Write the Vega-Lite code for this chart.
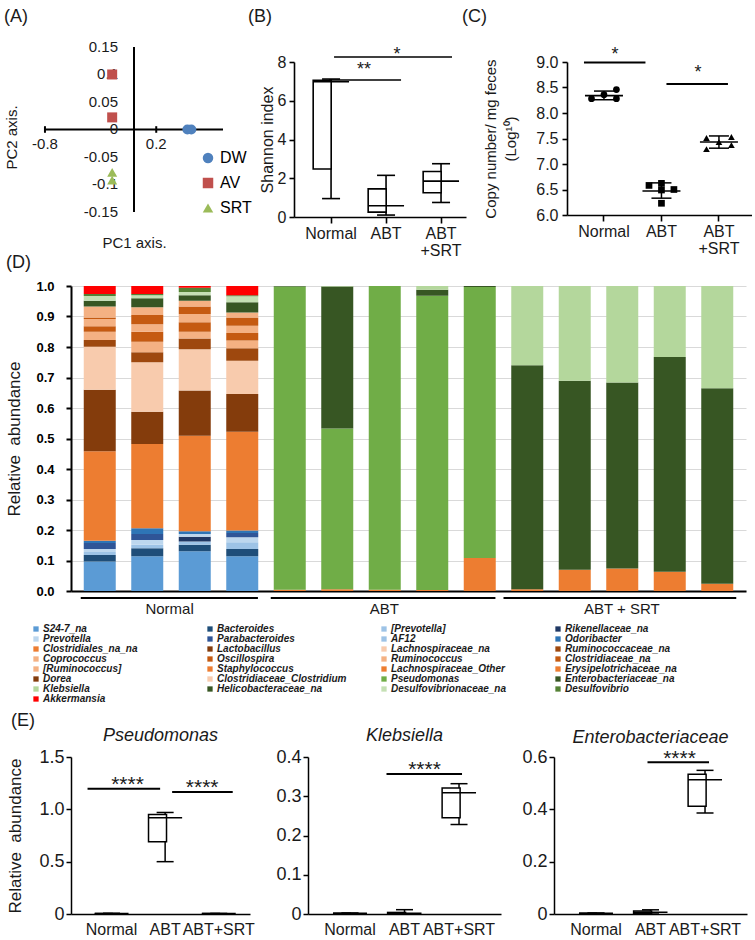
{
  "$schema": "https://vega.github.io/schema/vega-lite/v6.json",
  "background": "white",
  "padding": {"left": 4, "top": 7, "right": 0, "bottom": 0},
  "config": {
    "font": "Liberation Sans",
    "view": {"stroke": null},
    "title": {"fontSize": 18, "fontWeight": "normal", "color": "#1a1a1a", "anchor": "start"},
    "axis": {"domainColor": "black", "tickColor": "black", "labelColor": "#1a1a1a", "titleColor": "#1a1a1a", "grid": false, "titleFontWeight": "normal", "labelFont": "Liberation Sans", "titleFont": "Liberation Sans", "labelOverlap": false}
  },
  "datasets": {
    "taxa": [{"t":"S24-7_na","k":0},{"t":"Bacteroides","k":1},{"t":"[Prevotella]","k":2},{"t":"Rikenellaceae_na","k":3},{"t":"Prevotella","k":4},{"t":"Parabacteroides","k":5},{"t":"AF12","k":6},{"t":"Odoribacter","k":7},{"t":"Clostridiales_na_na","k":8},{"t":"Lactobacillus","k":9},{"t":"Lachnospiraceae_na","k":10},{"t":"Ruminococcaceae_na","k":11},{"t":"Coprococcus","k":12},{"t":"Oscillospira","k":13},{"t":"Ruminococcus","k":14},{"t":"Clostridiaceae_na","k":15},{"t":"[Ruminococcus]","k":16},{"t":"Staphylococcus","k":17},{"t":"Lachnospiraceae_Other","k":18},{"t":"Erysipelotrichaceae_na","k":19},{"t":"Dorea","k":20},{"t":"Clostridiaceae_Clostridium","k":21},{"t":"Pseudomonas","k":22},{"t":"Enterobacteriaceae_na","k":23},{"t":"Klebsiella","k":24},{"t":"Helicobacteraceae_na","k":25},{"t":"Desulfovibrionaceae_na","k":26},{"t":"Desulfovibrio","k":27},{"t":"Akkermansia","k":28}],
    "abund": [
      {"s":1,"t":"S24-7_na","v":0.097},{"s":1,"t":"Bacteroides","v":0.021},{"s":1,"t":"[Prevotella]","v":0.010},{"s":1,"t":"Prevotella","v":0.010},{"s":1,"t":"Parabacteroides","v":0.019},{"s":1,"t":"Odoribacter","v":0.008},{"s":1,"t":"Clostridiales_na_na","v":0.293},{"s":1,"t":"Lactobacillus","v":0.202},{"s":1,"t":"Lachnospiraceae_na","v":0.141},{"s":1,"t":"Ruminococcaceae_na","v":0.022},{"s":1,"t":"Coprococcus","v":0.027},{"s":1,"t":"Oscillospira","v":0.018},{"s":1,"t":"Ruminococcus","v":0.024},{"s":1,"t":"Clostridiaceae_na","v":0.005},{"s":1,"t":"[Ruminococcus]","v":0.036},{"s":1,"t":"Helicobacteraceae_na","v":0.019},{"s":1,"t":"Desulfovibrionaceae_na","v":0.015},{"s":1,"t":"Desulfovibrio","v":0.007},{"s":1,"t":"Akkermansia","v":0.026},
      {"s":2,"t":"S24-7_na","v":0.114},{"s":2,"t":"Bacteroides","v":0.026},{"s":2,"t":"[Prevotella]","v":0.012},{"s":2,"t":"Prevotella","v":0.015},{"s":2,"t":"Parabacteroides","v":0.020},{"s":2,"t":"Odoribacter","v":0.019},{"s":2,"t":"Clostridiales_na_na","v":0.276},{"s":2,"t":"Lactobacillus","v":0.106},{"s":2,"t":"Lachnospiraceae_na","v":0.162},{"s":2,"t":"Ruminococcaceae_na","v":0.033},{"s":2,"t":"Coprococcus","v":0.034},{"s":2,"t":"Oscillospira","v":0.033},{"s":2,"t":"Ruminococcus","v":0.025},{"s":2,"t":"Clostridiaceae_na","v":0.030},{"s":2,"t":"[Ruminococcus]","v":0.025},{"s":2,"t":"Helicobacteraceae_na","v":0.030},{"s":2,"t":"Desulfovibrionaceae_na","v":0.010},{"s":2,"t":"Desulfovibrio","v":0.004},{"s":2,"t":"Akkermansia","v":0.026},
      {"s":3,"t":"S24-7_na","v":0.130},{"s":3,"t":"Bacteroides","v":0.022},{"s":3,"t":"[Prevotella]","v":0.010},{"s":3,"t":"Rikenellaceae_na","v":0.016},{"s":3,"t":"Prevotella","v":0.009},{"s":3,"t":"Odoribacter","v":0.009},{"s":3,"t":"Clostridiales_na_na","v":0.313},{"s":3,"t":"Lactobacillus","v":0.148},{"s":3,"t":"Lachnospiraceae_na","v":0.136},{"s":3,"t":"Ruminococcaceae_na","v":0.035},{"s":3,"t":"Coprococcus","v":0.022},{"s":3,"t":"Oscillospira","v":0.031},{"s":3,"t":"Ruminococcus","v":0.027},{"s":3,"t":"Clostridiaceae_na","v":0.025},{"s":3,"t":"[Ruminococcus]","v":0.019},{"s":3,"t":"Helicobacteraceae_na","v":0.018},{"s":3,"t":"Desulfovibrionaceae_na","v":0.010},{"s":3,"t":"Desulfovibrio","v":0.014},{"s":3,"t":"Akkermansia","v":0.006},
      {"s":4,"t":"S24-7_na","v":0.114},{"s":4,"t":"Bacteroides","v":0.024},{"s":4,"t":"[Prevotella]","v":0.022},{"s":4,"t":"Prevotella","v":0.016},{"s":4,"t":"Parabacteroides","v":0.014},{"s":4,"t":"Odoribacter","v":0.008},{"s":4,"t":"Clostridiales_na_na","v":0.324},{"s":4,"t":"Lactobacillus","v":0.124},{"s":4,"t":"Lachnospiraceae_na","v":0.109},{"s":4,"t":"Ruminococcaceae_na","v":0.041},{"s":4,"t":"Coprococcus","v":0.025},{"s":4,"t":"Oscillospira","v":0.025},{"s":4,"t":"Ruminococcus","v":0.024},{"s":4,"t":"Clostridiaceae_na","v":0.027},{"s":4,"t":"[Ruminococcus]","v":0.016},{"s":4,"t":"Helicobacteraceae_na","v":0.034},{"s":4,"t":"Desulfovibrionaceae_na","v":0.019},{"s":4,"t":"Desulfovibrio","v":0.004},{"s":4,"t":"Akkermansia","v":0.030},
      {"s":5,"t":"Clostridiales_na_na","v":0.004},{"s":5,"t":"Pseudomonas","v":0.994},{"s":5,"t":"Enterobacteriaceae_na","v":0.002},
      {"s":6,"t":"Clostridiales_na_na","v":0.006},{"s":6,"t":"Pseudomonas","v":0.527},{"s":6,"t":"Enterobacteriaceae_na","v":0.465},{"s":6,"t":"Klebsiella","v":0.002},
      {"s":7,"t":"Clostridiales_na_na","v":0.004},{"s":7,"t":"Pseudomonas","v":0.996},
      {"s":8,"t":"Clostridiales_na_na","v":0.003},{"s":8,"t":"Pseudomonas","v":0.965},{"s":8,"t":"Enterobacteriaceae_na","v":0.020},{"s":8,"t":"Klebsiella","v":0.012},
      {"s":9,"t":"Staphylococcus","v":0.108},{"s":9,"t":"Pseudomonas","v":0.889},{"s":9,"t":"Enterobacteriaceae_na","v":0.003},
      {"s":10,"t":"Staphylococcus","v":0.006},{"s":10,"t":"Enterobacteriaceae_na","v":0.734},{"s":10,"t":"Klebsiella","v":0.260},
      {"s":11,"t":"Staphylococcus","v":0.070},{"s":11,"t":"Enterobacteriaceae_na","v":0.619},{"s":11,"t":"Klebsiella","v":0.311},
      {"s":12,"t":"Staphylococcus","v":0.074},{"s":12,"t":"Enterobacteriaceae_na","v":0.610},{"s":12,"t":"Klebsiella","v":0.316},
      {"s":13,"t":"Staphylococcus","v":0.063},{"s":13,"t":"Enterobacteriaceae_na","v":0.704},{"s":13,"t":"Klebsiella","v":0.233},
      {"s":14,"t":"Staphylococcus","v":0.024},{"s":14,"t":"Enterobacteriaceae_na","v":0.641},{"s":14,"t":"Klebsiella","v":0.335}
    ]
  },
  "spacing": 8,
  "resolve": {"scale": {"x": "independent", "y": "independent", "color": "independent", "shape": "independent"}, "legend": {"color": "independent", "shape": "independent"}},
  "vconcat": [
    {
      "spacing": -4,
      "resolve": {"scale": {"x": "independent", "y": "independent", "color": "independent", "shape": "independent"}, "legend": {"color": "independent", "shape": "independent"}},
      "vconcat": [
        {
          "spacing": -4,
          "resolve": {"scale": {"x": "independent", "y": "independent", "color": "independent", "shape": "independent"}, "legend": {"color": "independent", "shape": "independent"}},
          "hconcat": [
            {
              "width": 152, "height": 150,
              "title": {"text": "(A)", "dx": -67, "frame": "group", "offset": 14},
              "layer": [
                {
                  "data": {"values": [{"a": -0.8, "b": 0.8, "c": 0}]},
                  "mark": {"type": "rule", "color": "black", "strokeWidth": 2},
                  "encoding": {
                    "x": {"field": "a", "type": "quantitative", "scale": {"domain": [-0.566, 0.8], "nice": false, "zero": false},
                          "axis": {"title": "PC1 axis.", "labels": false, "ticks": false, "domain": false, "titleFontSize": 15, "titlePadding": 23, "titleX": 63}},
                    "x2": {"field": "b"},
                    "y": {"field": "c", "type": "quantitative", "scale": {"domain": [-0.15, 0.1227], "nice": false, "zero": false},
                          "axis": {"title": "PC2 axis.", "labels": false, "ticks": false, "domain": false, "titleFontSize": 15, "titlePadding": 52}}
                  }
                },
                {
                  "data": {"values": [{"x": 0, "a": -0.15, "b": 0.15}]},
                  "mark": {"type": "rule", "color": "black", "strokeWidth": 2},
                  "encoding": {"x": {"field": "x", "type": "quantitative"}, "y": {"field": "a", "type": "quantitative"}, "y2": {"field": "b"}}
                },
                {
                  "data": {"values": [{"x": -0.8, "l": "-0.8"}, {"x": 0.2, "l": "0.2"}]},
                  "layer": [
                    {"mark": {"type": "rule", "color": "black", "strokeWidth": 2}, "encoding": {"x": {"field": "x", "type": "quantitative"}, "y": {"datum": -0.006}, "y2": {"datum": 0.006}}},
                    {"mark": {"type": "text", "fontSize": 15, "dy": 15, "color": "#1a1a1a"}, "encoding": {"x": {"field": "x", "type": "quantitative"}, "y": {"datum": 0}, "text": {"field": "l"}}}
                  ]
                },
                {
                  "data": {"values": [{"y": 0.15, "l": "0.15"}, {"y": 0.1, "l": "0.1"}, {"y": 0.05, "l": "0.05"}, {"y": 0, "l": "0"}, {"y": -0.05, "l": "-0.05"}, {"y": -0.1, "l": "-0.1"}, {"y": -0.15, "l": "-0.15"}]},
                  "mark": {"type": "text", "fontSize": 15, "align": "right", "dx": -16, "color": "#1a1a1a"},
                  "encoding": {"x": {"datum": 0}, "y": {"field": "y", "type": "quantitative"}, "text": {"field": "l"}}
                },
                {
                  "data": {"values": [
                    {"grp": "DW", "pc1": 0.48, "pc2": 0}, {"grp": "DW", "pc1": 0.515, "pc2": 0},
                    {"grp": "AV", "pc1": -0.196, "pc2": 0.1}, {"grp": "AV", "pc1": -0.196, "pc2": 0.022},
                    {"grp": "SRT", "pc1": -0.196, "pc2": -0.078}, {"grp": "SRT", "pc1": -0.196, "pc2": -0.092}]},
                  "mark": {"type": "point", "filled": true, "size": 100, "opacity": 1},
                  "encoding": {
                    "x": {"field": "pc1", "type": "quantitative"},
                    "y": {"field": "pc2", "type": "quantitative"},
                    "color": {"field": "grp", "type": "nominal", "scale": {"domain": ["DW", "AV", "SRT"], "range": ["#4F81BD", "#C0504D", "#9BBB59"]},
                              "legend": {"title": null, "orient": "none", "legendX": 129, "legendY": 88, "labelFontSize": 16, "symbolSize": 110, "rowPadding": 9, "labelOffset": 4, "padding": 0}},
                    "shape": {"field": "grp", "type": "nominal", "scale": {"domain": ["DW", "AV", "SRT"], "range": ["circle", "square", "triangle-up"]},
                              "legend": {"title": null, "orient": "none", "legendX": 129, "legendY": 88, "labelFontSize": 16, "symbolSize": 110, "rowPadding": 9, "labelOffset": 4, "padding": 0}}
                  }
                }
              ]
            },
            {
              "width": 172, "height": 155,
              "title": {"text": "(B)", "dx": -46, "frame": "group", "offset": 20},
              "layer": [
                {
                  "data": {"values": [
                    {"g": "Normal", "lo": 0.95, "q1": 2.48, "md": 6.98, "q3": 7.05, "hi": 7.12},
                    {"g": "ABT", "lo": 0.1, "q1": 0.25, "md": 0.58, "q3": 1.45, "hi": 2.15},
                    {"g": "ABT+SRT", "lo": 0.75, "q1": 1.25, "md": 1.85, "q3": 2.35, "hi": 2.75}]},
                  "encoding": {"x": {"field": "g", "type": "nominal", "sort": null, "scale": {"domain": ["Normal", "ABT", "ABT+SRT"], "paddingInner": 0.35, "paddingOuter": 0.239, "align": 0.73},
                                     "axis": {"title": null, "labelAngle": 0, "labelFontSize": 16, "labelExpr": "datum.value == 'ABT+SRT' ? ['ABT', '+SRT'] : datum.label", "labelLineHeight": 17, "domainWidth": 1.6, "tickWidth": 1.6, "tickSize": 6, "labelPadding": 2}}},
                  "layer": [
                    {"mark": {"type": "rule", "color": "black", "strokeWidth": 1.6}, "encoding": {"y": {"field": "lo", "type": "quantitative", "scale": {"domain": [0, 8], "nice": false}, "axis": {"values": [0, 2, 4, 6, 8], "labelOverlap": false, "title": "Shannon index", "titleFontSize": 16, "titlePadding": 2, "labelFontSize": 16, "tickSize": 5, "tickWidth": 1.6, "domainWidth": 1.6, "labelPadding": 3}}, "y2": {"field": "hi"}}},
                    {"mark": {"type": "bar", "fill": "white", "stroke": "black", "strokeWidth": 1.6, "width": {"band": 1}}, "encoding": {"y": {"field": "q1", "type": "quantitative", "axis": {"values": [0, 2, 4, 6, 8], "labelOverlap": false, "title": "Shannon index", "titleFontSize": 16, "titlePadding": 2, "labelFontSize": 16, "tickSize": 5, "tickWidth": 1.6, "domainWidth": 1.6, "labelPadding": 3}}, "y2": {"field": "q3"}}},
                    {"mark": {"type": "tick", "color": "black", "thickness": 1.6, "size": 36, "opacity": 1}, "encoding": {"y": {"field": "md", "type": "quantitative", "axis": {"values": [0, 2, 4, 6, 8], "labelOverlap": false, "title": "Shannon index", "titleFontSize": 16, "titlePadding": 2, "labelFontSize": 16, "tickSize": 5, "tickWidth": 1.6, "domainWidth": 1.6, "labelPadding": 3}}}},
                    {"mark": {"type": "tick", "color": "black", "thickness": 1.6, "size": 18, "opacity": 1}, "encoding": {"y": {"field": "lo", "type": "quantitative", "axis": {"values": [0, 2, 4, 6, 8], "labelOverlap": false, "title": "Shannon index", "titleFontSize": 16, "titlePadding": 2, "labelFontSize": 16, "tickSize": 5, "tickWidth": 1.6, "domainWidth": 1.6, "labelPadding": 3}}}},
                    {"mark": {"type": "tick", "color": "black", "thickness": 1.6, "size": 18, "opacity": 1}, "encoding": {"y": {"field": "hi", "type": "quantitative", "axis": {"values": [0, 2, 4, 6, 8], "labelOverlap": false, "title": "Shannon index", "titleFontSize": 16, "titlePadding": 2, "labelFontSize": 16, "tickSize": 5, "tickWidth": 1.6, "domainWidth": 1.6, "labelPadding": 3}}}}
                  ]
                },
                {
                  "data": {"values": [{"a": "Normal", "b": "ABT", "y": 7.07}]},
                  "layer": [
                    {"mark": {"type": "rule", "color": "black", "strokeWidth": 1.6, "xOffset": -2, "x2Offset": 15}, "encoding": {"x": {"field": "a", "type": "nominal"}, "x2": {"field": "b"}, "y": {"field": "y", "type": "quantitative", "axis": {"values": [0, 2, 4, 6, 8], "labelOverlap": false, "title": "Shannon index", "titleFontSize": 16, "titlePadding": 2, "labelFontSize": 16, "tickSize": 5, "tickWidth": 1.6, "domainWidth": 1.6, "labelPadding": 3}}}},
                    {"mark": {"type": "text", "text": "**", "fontSize": 18, "dx": 33, "dy": -4.6, "baseline": "alphabetic", "color": "#1a1a1a"}, "encoding": {"x": {"field": "a", "type": "nominal"}, "y": {"field": "y", "type": "quantitative", "axis": {"values": [0, 2, 4, 6, 8], "labelOverlap": false, "title": "Shannon index", "titleFontSize": 16, "titlePadding": 2, "labelFontSize": 16, "tickSize": 5, "tickWidth": 1.6, "domainWidth": 1.6, "labelPadding": 3}}}}
                  ]
                },
                {
                  "data": {"values": [{"a": "Normal", "b": "ABT+SRT", "c": "ABT", "y": 8.26}]},
                  "layer": [
                    {"mark": {"type": "rule", "color": "black", "strokeWidth": 1.6, "xOffset": 3, "x2Offset": 11}, "encoding": {"x": {"field": "a", "type": "nominal"}, "x2": {"field": "b"}, "y": {"field": "y", "type": "quantitative", "axis": {"values": [0, 2, 4, 6, 8], "labelOverlap": false, "title": "Shannon index", "titleFontSize": 16, "titlePadding": 2, "labelFontSize": 16, "tickSize": 5, "tickWidth": 1.6, "domainWidth": 1.6, "labelPadding": 3}}}},
                    {"mark": {"type": "text", "text": "*", "fontSize": 18, "dx": 11, "dy": 3.4, "baseline": "alphabetic", "color": "#1a1a1a"}, "encoding": {"x": {"field": "c", "type": "nominal"}, "y": {"field": "y", "type": "quantitative", "axis": {"values": [0, 2, 4, 6, 8], "labelOverlap": false, "title": "Shannon index", "titleFontSize": 16, "titlePadding": 2, "labelFontSize": 16, "tickSize": 5, "tickWidth": 1.6, "domainWidth": 1.6, "labelPadding": 3}}}}
                  ]
                }
              ]
            },
            {
              "width": 185, "height": 153,
              "title": {"text": "(C)", "dx": -105, "frame": "group", "offset": 20},
              "layer": [
                {
                  "data": {"values": [
                    {"g": "Normal", "r": 1, "v": 8.28}, {"g": "Normal", "r": 2, "v": 8.36}, {"g": "Normal", "r": 3, "v": 8.46}, {"g": "Normal", "r": 3, "v": 8.28},
                    {"g": "ABT", "r": 1, "v": 6.58}, {"g": "ABT", "r": 2, "v": 6.62}, {"g": "ABT", "r": 2, "v": 6.49}, {"g": "ABT", "r": 3, "v": 6.5}, {"g": "ABT", "r": 2, "v": 6.23},
                    {"g": "ABT+SRT", "r": 1, "v": 7.51}, {"g": "ABT+SRT", "r": 1, "v": 7.29}, {"g": "ABT+SRT", "r": 2, "v": 7.43}, {"g": "ABT+SRT", "r": 3, "v": 7.53}, {"g": "ABT+SRT", "r": 3, "v": 7.37}]},
                  "mark": {"type": "point", "filled": true, "color": "black", "size": 45, "opacity": 1},
                  "encoding": {
                    "x": {"field": "g", "type": "nominal", "sort": null, "scale": {"domain": ["Normal", "ABT", "ABT+SRT"], "paddingInner": 0.35, "paddingOuter": 0.284, "align": 0.56},
                          "axis": {"title": null, "labelAngle": 0, "labelFontSize": 16, "labelExpr": "datum.value == 'ABT+SRT' ? ['ABT', '+SRT'] : datum.label", "labelLineHeight": 17, "domainWidth": 1.6, "tickWidth": 1.6, "tickSize": 6, "labelPadding": 2}},
                    "xOffset": {"field": "r", "type": "ordinal", "scale": {"domain": [1, 2, 3]}},
                    "y": {"field": "v", "type": "quantitative", "scale": {"domain": [6, 9], "nice": false, "zero": false},
                          "axis": {"values": [6, 6.5, 7, 7.5, 8, 8.5, 9], "labelOverlap": false, "format": ".1f", "title": ["Copy number/ mg feces", "(Log¹⁰)"], "titleFontSize": 15, "titleLineHeight": 20, "titlePadding": 17, "labelFontSize": 16, "tickSize": 5, "tickWidth": 1.6, "domainWidth": 1.6, "labelPadding": 4}},
                    "shape": {"field": "g", "type": "nominal", "scale": {"domain": ["Normal", "ABT", "ABT+SRT"], "range": ["circle", "square", "triangle-up"]}, "legend": null}
                  }
                },
                {
                  "data": {"values": [{"g": "Normal", "m": 8.34, "lo": 8.26, "hi": 8.43}, {"g": "ABT", "m": 6.47, "lo": 6.33, "hi": 6.63}, {"g": "ABT+SRT", "m": 7.43, "lo": 7.31, "hi": 7.55}]},
                  "encoding": {"x": {"field": "g", "type": "nominal", "sort": null}},
                  "layer": [
                    {"mark": {"type": "rule", "color": "black", "strokeWidth": 1.5}, "encoding": {"y": {"field": "lo", "type": "quantitative", "axis": {"values": [6, 6.5, 7, 7.5, 8, 8.5, 9], "labelOverlap": false, "format": ".1f", "title": ["Copy number/ mg feces", "(Log¹⁰)"], "titleFontSize": 15, "titleLineHeight": 20, "titlePadding": 17, "labelFontSize": 16, "tickSize": 5, "tickWidth": 1.6, "domainWidth": 1.6, "labelPadding": 4}}, "y2": {"field": "hi"}}},
                    {"mark": {"type": "tick", "color": "black", "thickness": 1.6, "size": 38, "opacity": 1}, "encoding": {"y": {"field": "m", "type": "quantitative", "axis": {"values": [6, 6.5, 7, 7.5, 8, 8.5, 9], "labelOverlap": false, "format": ".1f", "title": ["Copy number/ mg feces", "(Log¹⁰)"], "titleFontSize": 15, "titleLineHeight": 20, "titlePadding": 17, "labelFontSize": 16, "tickSize": 5, "tickWidth": 1.6, "domainWidth": 1.6, "labelPadding": 4}}}},
                    {"mark": {"type": "tick", "color": "black", "thickness": 1.5, "size": 20, "opacity": 1}, "encoding": {"y": {"field": "lo", "type": "quantitative", "axis": {"values": [6, 6.5, 7, 7.5, 8, 8.5, 9], "labelOverlap": false, "format": ".1f", "title": ["Copy number/ mg feces", "(Log¹⁰)"], "titleFontSize": 15, "titleLineHeight": 20, "titlePadding": 17, "labelFontSize": 16, "tickSize": 5, "tickWidth": 1.6, "domainWidth": 1.6, "labelPadding": 4}}}},
                    {"mark": {"type": "tick", "color": "black", "thickness": 1.5, "size": 20, "opacity": 1}, "encoding": {"y": {"field": "hi", "type": "quantitative", "axis": {"values": [6, 6.5, 7, 7.5, 8, 8.5, 9], "labelOverlap": false, "format": ".1f", "title": ["Copy number/ mg feces", "(Log¹⁰)"], "titleFontSize": 15, "titleLineHeight": 20, "titlePadding": 17, "labelFontSize": 16, "tickSize": 5, "tickWidth": 1.6, "domainWidth": 1.6, "labelPadding": 4}}}}
                  ]
                },
                {
                  "data": {"values": [{"a": "Normal", "b": "ABT", "y": 8.99}]},
                  "layer": [
                    {"mark": {"type": "rule", "color": "black", "strokeWidth": 2, "xOffset": -20, "x2Offset": -16}, "encoding": {"x": {"field": "a", "type": "nominal"}, "x2": {"field": "b"}, "y": {"field": "y", "type": "quantitative", "axis": {"values": [6, 6.5, 7, 7.5, 8, 8.5, 9], "labelOverlap": false, "format": ".1f", "title": ["Copy number/ mg feces", "(Log¹⁰)"], "titleFontSize": 15, "titleLineHeight": 20, "titlePadding": 17, "labelFontSize": 16, "tickSize": 5, "tickWidth": 1.6, "domainWidth": 1.6, "labelPadding": 4}}}},
                    {"mark": {"type": "text", "text": "*", "fontSize": 18, "dx": 11, "dy": -3, "baseline": "alphabetic", "color": "#1a1a1a"}, "encoding": {"x": {"field": "a", "type": "nominal"}, "y": {"field": "y", "type": "quantitative", "axis": {"values": [6, 6.5, 7, 7.5, 8, 8.5, 9], "labelOverlap": false, "format": ".1f", "title": ["Copy number/ mg feces", "(Log¹⁰)"], "titleFontSize": 15, "titleLineHeight": 20, "titlePadding": 17, "labelFontSize": 16, "tickSize": 5, "tickWidth": 1.6, "domainWidth": 1.6, "labelPadding": 4}}}}
                  ]
                },
                {
                  "data": {"values": [{"a": "ABT", "b": "ABT+SRT", "y": 8.57}]},
                  "layer": [
                    {"mark": {"type": "rule", "color": "black", "strokeWidth": 2, "xOffset": 5, "x2Offset": 9}, "encoding": {"x": {"field": "a", "type": "nominal"}, "x2": {"field": "b"}, "y": {"field": "y", "type": "quantitative", "axis": {"values": [6, 6.5, 7, 7.5, 8, 8.5, 9], "labelOverlap": false, "format": ".1f", "title": ["Copy number/ mg feces", "(Log¹⁰)"], "titleFontSize": 15, "titleLineHeight": 20, "titlePadding": 17, "labelFontSize": 16, "tickSize": 5, "tickWidth": 1.6, "domainWidth": 1.6, "labelPadding": 4}}}},
                    {"mark": {"type": "text", "text": "*", "fontSize": 18, "dx": -21, "dy": -5.6, "baseline": "alphabetic", "color": "#1a1a1a"}, "encoding": {"x": {"field": "b", "type": "nominal"}, "y": {"field": "y", "type": "quantitative", "axis": {"values": [6, 6.5, 7, 7.5, 8, 8.5, 9], "labelOverlap": false, "format": ".1f", "title": ["Copy number/ mg feces", "(Log¹⁰)"], "titleFontSize": 15, "titleLineHeight": 20, "titlePadding": 17, "labelFontSize": 16, "tickSize": 5, "tickWidth": 1.6, "domainWidth": 1.6, "labelPadding": 4}}}}
                  ]
                }
              ]
            }
          ]
        },
        {
          "width": 675, "height": 305,
          "title": {"text": "(D)", "dx": -65, "frame": "group", "offset": 8},
          "layer": [
            {
              "data": {"name": "abund"},
              "transform": [{"lookup": "t", "from": {"data": {"name": "taxa"}, "key": "t", "fields": ["k"]}}],
              "mark": {"type": "bar", "width": 32},
              "encoding": {
                "x": {"field": "s", "type": "quantitative", "scale": {"domain": [0.5, 14.5], "nice": false, "zero": false}, "axis": {"title": null, "labels": false, "ticks": false, "grid": false, "domainWidth": 2, "domainColor": "black"}},
                "y": {"field": "v", "type": "quantitative", "stack": "zero", "scale": {"domain": [0, 1], "nice": false},
                      "axis": {"title": "Relative\u00a0 abundance", "titleFontSize": 17, "titlePadding": 12, "values": [0, 0.1, 0.2, 0.3, 0.4, 0.5, 0.6, 0.7, 0.8, 0.9, 1], "labelOverlap": false, "format": ".1f", "labelFontWeight": "bold", "labelFontSize": 13, "labelColor": "black", "labelPadding": 12, "grid": true, "gridColor": "#d9d9d9", "gridWidth": 1, "domainWidth": 2, "tickSize": 5, "tickWidth": 2}},
                "color": {"field": "t", "type": "nominal",
                          "scale": {"domain": ["S24-7_na","Bacteroides","[Prevotella]","Rikenellaceae_na","Prevotella","Parabacteroides","AF12","Odoribacter","Clostridiales_na_na","Lactobacillus","Lachnospiraceae_na","Ruminococcaceae_na","Coprococcus","Oscillospira","Ruminococcus","Clostridiaceae_na","[Ruminococcus]","Staphylococcus","Lachnospiraceae_Other","Erysipelotrichaceae_na","Dorea","Clostridiaceae_Clostridium","Pseudomonas","Enterobacteriaceae_na","Klebsiella","Helicobacteraceae_na","Desulfovibrionaceae_na","Desulfovibrio","Akkermansia"],
                                    "range": ["#5B9BD5","#1F4E79","#9DC3E6","#203864","#BDD7EE","#2F5597","#9DC3E6","#2E75B6","#ED7D31","#843C0C","#F8CBAD","#9E480E","#F4B183","#C55A11","#F4B183","#C55A11","#F4B183","#ED7D31","#ED7D31","#ED7D31","#843C0C","#F8CBAD","#70AD47","#375623","#B4D79C","#375623","#C5E0B4","#548235","#FF0000"]},
                          "legend": {"title": null, "orient": "none", "direction": "horizontal", "legendX": -40, "legendY": 338, "columns": 4, "symbolType": "square", "symbolSize": 28, "symbolStrokeWidth": 0, "labelFontSize": 10, "labelFontStyle": "italic", "labelFontWeight": "bold", "labelFont": "Liberation Sans", "labelColor": "#1a1a1a", "rowPadding": -2, "columnPadding": 32, "gridAlign": "all", "labelOffset": 2, "labelLimit": 300, "padding": 0, "symbolLimit": 40}},
                "order": {"field": "k", "type": "quantitative", "sort": "ascending"}
              }
            },
            {
              "data": {"values": [{"grp": "Normal", "a": 0.6, "b": 4.33, "m": 2.47}, {"grp": "ABT", "a": 4.6, "b": 9.33, "m": 6.99}, {"grp": "ABT + SRT", "a": 9.5, "b": 14.4, "m": 11.99}]},
              "layer": [
                {"mark": {"type": "rule", "color": "black", "strokeWidth": 2}, "encoding": {"x": {"field": "a", "type": "quantitative"}, "x2": {"field": "b"}, "y": {"datum": -0.023, "axis": {"title": "Relative\u00a0 abundance", "titleFontSize": 17, "titlePadding": 12, "values": [0, 0.1, 0.2, 0.3, 0.4, 0.5, 0.6, 0.7, 0.8, 0.9, 1], "labelOverlap": false, "format": ".1f", "labelFontWeight": "bold", "labelFontSize": 13, "labelColor": "black", "labelPadding": 12, "grid": true, "gridColor": "#d9d9d9", "gridWidth": 1, "domainWidth": 2, "tickSize": 5, "tickWidth": 2}}}},
                {"mark": {"type": "text", "fontSize": 15, "color": "#1a1a1a", "baseline": "middle"}, "encoding": {"x": {"field": "m", "type": "quantitative"}, "y": {"datum": -0.059, "axis": {"title": "Relative\u00a0 abundance", "titleFontSize": 17, "titlePadding": 12, "values": [0, 0.1, 0.2, 0.3, 0.4, 0.5, 0.6, 0.7, 0.8, 0.9, 1], "labelOverlap": false, "format": ".1f", "labelFontWeight": "bold", "labelFontSize": 13, "labelColor": "black", "labelPadding": 12, "grid": true, "gridColor": "#d9d9d9", "gridWidth": 1, "domainWidth": 2, "tickSize": 5, "tickWidth": 2}}, "text": {"field": "grp"}}}
              ]
            }
          ]
        }
      ]
    },
    {
      "title": {"text": "(E)", "dx": 4, "offset": -3},
      "spacing": 20,
      "resolve": {"scale": {"x": "independent", "y": "independent"}},
      "hconcat": [
        {
          "width": 179, "height": 157,
          "title": {"text": "Pseudomonas", "fontStyle": "italic", "fontSize": 18, "anchor": "middle", "frame": "group", "offset": 3},
          "layer": [
            {
              "data": {"values": [
                {"g": "Normal", "lo": 0.005, "q1": 0.005, "md": 0.005, "q3": 0.005, "hi": 0.005},
                {"g": "ABT", "lo": 0.5, "q1": 0.69, "md": 0.92, "q3": 0.95, "hi": 0.97},
                {"g": "ABT+SRT", "lo": 0.004, "q1": 0.004, "md": 0.004, "q3": 0.004, "hi": 0.004}]},
              "encoding": {"x": {"field": "g", "type": "nominal", "sort": null, "scale": {"domain": ["Normal", "ABT", "ABT+SRT"], "paddingInner": 0.38, "paddingOuter": 0.36, "align": 0.62},
                                 "axis": {"title": null, "labelAngle": 0, "labelFontSize": 16, "ticks": false, "domainWidth": 1.5, "labelPadding": 7}}},
              "layer": [
                {"mark": {"type": "rule", "color": "black", "strokeWidth": 1.5}, "encoding": {"y": {"field": "lo", "type": "quantitative", "scale": {"domain": [0, 1.5], "nice": false}, "axis": {"values": [0, 0.5, 1, 1.5], "labelOverlap": false, "labelExpr": "datum.value == 0 ? '0' : format(datum.value, '.1f')", "labelFontSize": 18, "tickSize": 5, "tickWidth": 1.5, "domainWidth": 1.5, "labelPadding": 2, "title": "Relative\u00a0 abundance", "titleFontSize": 17, "titlePadding": 14}}, "y2": {"field": "hi"}}},
                {"mark": {"type": "bar", "fill": "white", "stroke": "black", "strokeWidth": 1.5, "width": {"band": 1}}, "encoding": {"y": {"field": "q1", "type": "quantitative", "axis": {"values": [0, 0.5, 1, 1.5], "labelOverlap": false, "labelExpr": "datum.value == 0 ? '0' : format(datum.value, '.1f')", "labelFontSize": 18, "tickSize": 5, "tickWidth": 1.5, "domainWidth": 1.5, "labelPadding": 2, "title": "Relative\u00a0 abundance", "titleFontSize": 17, "titlePadding": 14}}, "y2": {"field": "q3"}}},
                {"mark": {"type": "tick", "color": "black", "thickness": 1.5, "size": 34, "opacity": 1}, "encoding": {"y": {"field": "md", "type": "quantitative", "axis": {"values": [0, 0.5, 1, 1.5], "labelOverlap": false, "labelExpr": "datum.value == 0 ? '0' : format(datum.value, '.1f')", "labelFontSize": 18, "tickSize": 5, "tickWidth": 1.5, "domainWidth": 1.5, "labelPadding": 2, "title": "Relative\u00a0 abundance", "titleFontSize": 17, "titlePadding": 14}}}},
                {"mark": {"type": "tick", "color": "black", "thickness": 1.5, "size": 17, "opacity": 1}, "encoding": {"y": {"field": "lo", "type": "quantitative", "axis": {"values": [0, 0.5, 1, 1.5], "labelOverlap": false, "labelExpr": "datum.value == 0 ? '0' : format(datum.value, '.1f')", "labelFontSize": 18, "tickSize": 5, "tickWidth": 1.5, "domainWidth": 1.5, "labelPadding": 2, "title": "Relative\u00a0 abundance", "titleFontSize": 17, "titlePadding": 14}}}},
                {"mark": {"type": "tick", "color": "black", "thickness": 1.5, "size": 17, "opacity": 1}, "encoding": {"y": {"field": "hi", "type": "quantitative", "axis": {"values": [0, 0.5, 1, 1.5], "labelOverlap": false, "labelExpr": "datum.value == 0 ? '0' : format(datum.value, '.1f')", "labelFontSize": 18, "tickSize": 5, "tickWidth": 1.5, "domainWidth": 1.5, "labelPadding": 2, "title": "Relative\u00a0 abundance", "titleFontSize": 17, "titlePadding": 14}}}}
              ]
            },
            {
              "data": {"values": [{"a": "Normal", "b": "ABT", "y": 1.197}]},
              "layer": [
                {"mark": {"type": "rule", "color": "black", "strokeWidth": 2, "xOffset": -24, "x2Offset": -5}, "encoding": {"x": {"field": "a", "type": "nominal"}, "x2": {"field": "b"}, "y": {"field": "y", "type": "quantitative", "axis": {"values": [0, 0.5, 1, 1.5], "labelOverlap": false, "labelExpr": "datum.value == 0 ? '0' : format(datum.value, '.1f')", "labelFontSize": 18, "tickSize": 5, "tickWidth": 1.5, "domainWidth": 1.5, "labelPadding": 2, "title": "Relative\u00a0 abundance", "titleFontSize": 17, "titlePadding": 14}}}},
                {"mark": {"type": "text", "text": "****", "fontSize": 21, "dx": 16, "dy": 2, "baseline": "alphabetic", "color": "#1a1a1a"}, "encoding": {"x": {"field": "a", "type": "nominal"}, "y": {"field": "y", "type": "quantitative", "axis": {"values": [0, 0.5, 1, 1.5], "labelOverlap": false, "labelExpr": "datum.value == 0 ? '0' : format(datum.value, '.1f')", "labelFontSize": 18, "tickSize": 5, "tickWidth": 1.5, "domainWidth": 1.5, "labelPadding": 2, "title": "Relative\u00a0 abundance", "titleFontSize": 17, "titlePadding": 14}}}}
              ]
            },
            {
              "data": {"values": [{"a": "ABT", "b": "ABT+SRT", "y": 1.165}]},
              "layer": [
                {"mark": {"type": "rule", "color": "black", "strokeWidth": 2, "xOffset": 7, "x2Offset": 14}, "encoding": {"x": {"field": "a", "type": "nominal"}, "x2": {"field": "b"}, "y": {"field": "y", "type": "quantitative", "axis": {"values": [0, 0.5, 1, 1.5], "labelOverlap": false, "labelExpr": "datum.value == 0 ? '0' : format(datum.value, '.1f')", "labelFontSize": 18, "tickSize": 5, "tickWidth": 1.5, "domainWidth": 1.5, "labelPadding": 2, "title": "Relative\u00a0 abundance", "titleFontSize": 17, "titlePadding": 14}}}},
                {"mark": {"type": "text", "text": "****", "fontSize": 21, "dx": 37, "dy": 2, "baseline": "alphabetic", "color": "#1a1a1a"}, "encoding": {"x": {"field": "a", "type": "nominal"}, "y": {"field": "y", "type": "quantitative", "axis": {"values": [0, 0.5, 1, 1.5], "labelOverlap": false, "labelExpr": "datum.value == 0 ? '0' : format(datum.value, '.1f')", "labelFontSize": 18, "tickSize": 5, "tickWidth": 1.5, "domainWidth": 1.5, "labelPadding": 2, "title": "Relative\u00a0 abundance", "titleFontSize": 17, "titlePadding": 14}}}}
              ]
            }
          ]
        },
        {
          "width": 193, "height": 157,
          "title": {"text": "Klebsiella", "fontStyle": "italic", "fontSize": 18, "anchor": "middle", "frame": "group", "offset": 3},
          "layer": [
            {
              "data": {"values": [
                {"g": "Normal", "lo": 0.002, "q1": 0.002, "md": 0.002, "q3": 0.002, "hi": 0.002},
                {"g": "ABT", "lo": 0.0, "q1": 0.001, "md": 0.002, "q3": 0.004, "hi": 0.011},
                {"g": "ABT+SRT", "lo": 0.228, "q1": 0.245, "md": 0.309, "q3": 0.321, "hi": 0.332}]},
              "encoding": {"x": {"field": "g", "type": "nominal", "sort": null, "scale": {"domain": ["Normal", "ABT", "ABT+SRT"], "paddingInner": 0.38, "paddingOuter": 0.46, "align": 0.5},
                                 "axis": {"title": null, "labelAngle": 0, "labelFontSize": 16, "ticks": false, "domainWidth": 1.5, "labelPadding": 7}}},
              "layer": [
                {"mark": {"type": "rule", "color": "black", "strokeWidth": 1.5}, "encoding": {"y": {"field": "lo", "type": "quantitative", "scale": {"domain": [0, 0.4], "nice": false}, "axis": {"values": [0, 0.1, 0.2, 0.3, 0.4], "labelOverlap": false, "labelExpr": "datum.value == 0 ? '0' : format(datum.value, '.1f')", "labelFontSize": 18, "tickSize": 5, "tickWidth": 1.5, "domainWidth": 1.5, "labelPadding": 2, "title": null}}, "y2": {"field": "hi"}}},
                {"mark": {"type": "bar", "fill": "white", "stroke": "black", "strokeWidth": 1.5, "width": {"band": 1}}, "encoding": {"y": {"field": "q1", "type": "quantitative", "axis": {"values": [0, 0.1, 0.2, 0.3, 0.4], "labelOverlap": false, "labelExpr": "datum.value == 0 ? '0' : format(datum.value, '.1f')", "labelFontSize": 18, "tickSize": 5, "tickWidth": 1.5, "domainWidth": 1.5, "labelPadding": 2, "title": null}}, "y2": {"field": "q3"}}},
                {"mark": {"type": "tick", "color": "black", "thickness": 1.5, "size": 34, "opacity": 1}, "encoding": {"y": {"field": "md", "type": "quantitative", "axis": {"values": [0, 0.1, 0.2, 0.3, 0.4], "labelOverlap": false, "labelExpr": "datum.value == 0 ? '0' : format(datum.value, '.1f')", "labelFontSize": 18, "tickSize": 5, "tickWidth": 1.5, "domainWidth": 1.5, "labelPadding": 2, "title": null}}}},
                {"mark": {"type": "tick", "color": "black", "thickness": 1.5, "size": 17, "opacity": 1}, "encoding": {"y": {"field": "lo", "type": "quantitative", "axis": {"values": [0, 0.1, 0.2, 0.3, 0.4], "labelOverlap": false, "labelExpr": "datum.value == 0 ? '0' : format(datum.value, '.1f')", "labelFontSize": 18, "tickSize": 5, "tickWidth": 1.5, "domainWidth": 1.5, "labelPadding": 2, "title": null}}}},
                {"mark": {"type": "tick", "color": "black", "thickness": 1.5, "size": 17, "opacity": 1}, "encoding": {"y": {"field": "hi", "type": "quantitative", "axis": {"values": [0, 0.1, 0.2, 0.3, 0.4], "labelOverlap": false, "labelExpr": "datum.value == 0 ? '0' : format(datum.value, '.1f')", "labelFontSize": 18, "tickSize": 5, "tickWidth": 1.5, "domainWidth": 1.5, "labelPadding": 2, "title": null}}}}
              ]
            },
            {
              "data": {"values": [{"a": "ABT", "b": "ABT+SRT", "y": 0.357}]},
              "layer": [
                {"mark": {"type": "rule", "color": "black", "strokeWidth": 2, "xOffset": -18, "x2Offset": 3}, "encoding": {"x": {"field": "a", "type": "nominal"}, "x2": {"field": "b"}, "y": {"field": "y", "type": "quantitative", "axis": {"values": [0, 0.1, 0.2, 0.3, 0.4], "labelOverlap": false, "labelExpr": "datum.value == 0 ? '0' : format(datum.value, '.1f')", "labelFontSize": 18, "tickSize": 5, "tickWidth": 1.5, "domainWidth": 1.5, "labelPadding": 2, "title": null}}}},
                {"mark": {"type": "text", "text": "****", "fontSize": 21, "dx": 20, "dy": 2, "baseline": "alphabetic", "color": "#1a1a1a"}, "encoding": {"x": {"field": "a", "type": "nominal"}, "y": {"field": "y", "type": "quantitative", "axis": {"values": [0, 0.1, 0.2, 0.3, 0.4], "labelOverlap": false, "labelExpr": "datum.value == 0 ? '0' : format(datum.value, '.1f')", "labelFontSize": 18, "tickSize": 5, "tickWidth": 1.5, "domainWidth": 1.5, "labelPadding": 2, "title": null}}}}
              ]
            }
          ]
        },
        {
          "width": 193, "height": 157,
          "title": {"text": "Enterobacteriaceae", "fontStyle": "italic", "fontSize": 18, "anchor": "middle", "frame": "group", "offset": 1},
          "layer": [
            {
              "data": {"values": [
                {"g": "Normal", "lo": 0.003, "q1": 0.003, "md": 0.003, "q3": 0.003, "hi": 0.003},
                {"g": "ABT", "lo": 0.0, "q1": 0.003, "md": 0.007, "q3": 0.011, "hi": 0.016},
                {"g": "ABT+SRT", "lo": 0.386, "q1": 0.412, "md": 0.513, "q3": 0.534, "hi": 0.549}]},
              "encoding": {"x": {"field": "g", "type": "nominal", "sort": null, "scale": {"domain": ["Normal", "ABT", "ABT+SRT"], "paddingInner": 0.38, "paddingOuter": 0.46, "align": 0.5},
                                 "axis": {"title": null, "labelAngle": 0, "labelFontSize": 16, "ticks": false, "domainWidth": 1.5, "labelPadding": 7}}},
              "layer": [
                {"mark": {"type": "rule", "color": "black", "strokeWidth": 1.5}, "encoding": {"y": {"field": "lo", "type": "quantitative", "scale": {"domain": [0, 0.6], "nice": false}, "axis": {"values": [0, 0.2, 0.4, 0.6], "labelOverlap": false, "labelExpr": "datum.value == 0 ? '0' : format(datum.value, '.1f')", "labelFontSize": 18, "tickSize": 5, "tickWidth": 1.5, "domainWidth": 1.5, "labelPadding": 2, "title": null}}, "y2": {"field": "hi"}}},
                {"mark": {"type": "bar", "fill": "white", "stroke": "black", "strokeWidth": 1.5, "width": {"band": 1}}, "encoding": {"y": {"field": "q1", "type": "quantitative", "axis": {"values": [0, 0.2, 0.4, 0.6], "labelOverlap": false, "labelExpr": "datum.value == 0 ? '0' : format(datum.value, '.1f')", "labelFontSize": 18, "tickSize": 5, "tickWidth": 1.5, "domainWidth": 1.5, "labelPadding": 2, "title": null}}, "y2": {"field": "q3"}}},
                {"mark": {"type": "tick", "color": "black", "thickness": 1.5, "size": 34, "opacity": 1}, "encoding": {"y": {"field": "md", "type": "quantitative", "axis": {"values": [0, 0.2, 0.4, 0.6], "labelOverlap": false, "labelExpr": "datum.value == 0 ? '0' : format(datum.value, '.1f')", "labelFontSize": 18, "tickSize": 5, "tickWidth": 1.5, "domainWidth": 1.5, "labelPadding": 2, "title": null}}}},
                {"mark": {"type": "tick", "color": "black", "thickness": 1.5, "size": 17, "opacity": 1}, "encoding": {"y": {"field": "lo", "type": "quantitative", "axis": {"values": [0, 0.2, 0.4, 0.6], "labelOverlap": false, "labelExpr": "datum.value == 0 ? '0' : format(datum.value, '.1f')", "labelFontSize": 18, "tickSize": 5, "tickWidth": 1.5, "domainWidth": 1.5, "labelPadding": 2, "title": null}}}},
                {"mark": {"type": "tick", "color": "black", "thickness": 1.5, "size": 17, "opacity": 1}, "encoding": {"y": {"field": "hi", "type": "quantitative", "axis": {"values": [0, 0.2, 0.4, 0.6], "labelOverlap": false, "labelExpr": "datum.value == 0 ? '0' : format(datum.value, '.1f')", "labelFontSize": 18, "tickSize": 5, "tickWidth": 1.5, "domainWidth": 1.5, "labelPadding": 2, "title": null}}}}
              ]
            },
            {
              "data": {"values": [{"a": "ABT", "b": "ABT+SRT", "y": 0.58}]},
              "layer": [
                {"mark": {"type": "rule", "color": "black", "strokeWidth": 2, "xOffset": -3, "x2Offset": 4}, "encoding": {"x": {"field": "a", "type": "nominal"}, "x2": {"field": "b"}, "y": {"field": "y", "type": "quantitative", "axis": {"values": [0, 0.2, 0.4, 0.6], "labelOverlap": false, "labelExpr": "datum.value == 0 ? '0' : format(datum.value, '.1f')", "labelFontSize": 18, "tickSize": 5, "tickWidth": 1.5, "domainWidth": 1.5, "labelPadding": 2, "title": null}}}},
                {"mark": {"type": "text", "text": "****", "fontSize": 21, "dx": 29, "dy": 3, "baseline": "alphabetic", "color": "#1a1a1a"}, "encoding": {"x": {"field": "a", "type": "nominal"}, "y": {"field": "y", "type": "quantitative", "axis": {"values": [0, 0.2, 0.4, 0.6], "labelOverlap": false, "labelExpr": "datum.value == 0 ? '0' : format(datum.value, '.1f')", "labelFontSize": 18, "tickSize": 5, "tickWidth": 1.5, "domainWidth": 1.5, "labelPadding": 2, "title": null}}}}
              ]
            }
          ]
        }
      ]
    }
  ]
}
